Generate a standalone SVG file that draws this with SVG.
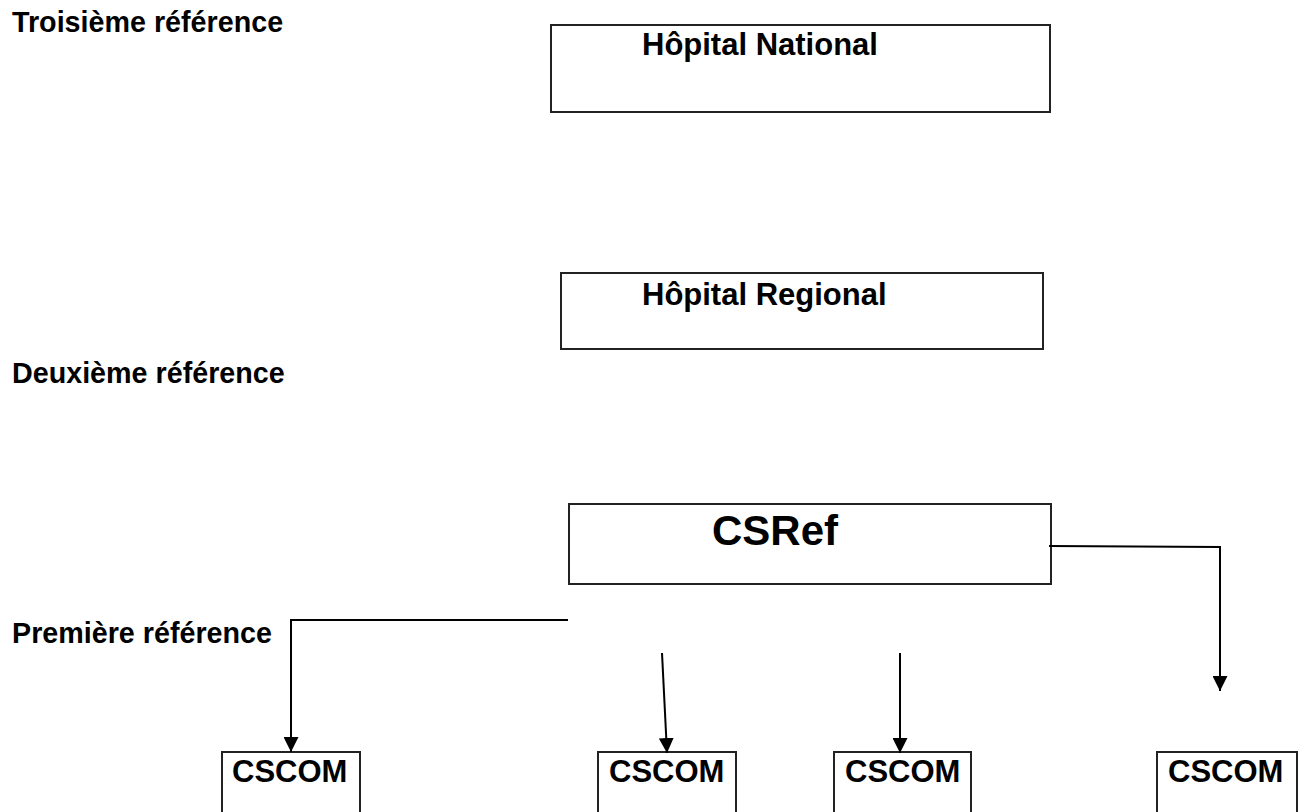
<svg xmlns="http://www.w3.org/2000/svg" width="1307" height="812" viewBox="0 0 1307 812">
<style>
.box{fill:#fff;stroke:#222;stroke-width:2}
.t{font-family:"Liberation Sans",Arial,sans-serif;font-weight:bold;fill:#000}
.lbl{font-size:28.7px}
.bt{font-size:31px}
.conn{fill:none;stroke:#000;stroke-width:2}
</style>
<defs>
<marker id="ah" markerUnits="userSpaceOnUse" markerWidth="15" markerHeight="15" refX="15" refY="7.5" orient="auto">
<path d="M0,0 L15,7.5 L0,15 Z" fill="#000"/>
</marker>
</defs>
<rect width="1307" height="812" fill="#fff"/>
<g id="labels">
<text class="t lbl" x="12" y="32">Troisième référence</text>
<text class="t lbl" x="12" y="383">Deuxième référence</text>
<text class="t lbl" x="12" y="643">Première référence</text>
</g>
<g id="hopital-national">
<rect class="box" x="551" y="25" width="499" height="87"/>
<text class="t bt" x="642" y="55">Hôpital National</text>
</g>
<g id="hopital-regional">
<rect class="box" x="561" y="273" width="482" height="76"/>
<text class="t bt" x="642" y="305">Hôpital Regional</text>
</g>
<g id="csref">
<rect class="box" x="569" y="504" width="482" height="80"/>
<text class="t" x="712" y="545" font-size="42">CSRef</text>
</g>
<g id="cscom1">
<rect class="box" x="222" y="752" width="138" height="80"/>
<text class="t bt" x="232" y="782">CSCOM</text>
</g>
<g id="cscom2">
<rect class="box" x="598" y="752" width="138" height="80"/>
<text class="t bt" x="609" y="782">CSCOM</text>
</g>
<g id="cscom3">
<rect class="box" x="834" y="752" width="137" height="80"/>
<text class="t bt" x="845" y="782">CSCOM</text>
</g>
<g id="cscom4">
<rect class="box" x="1157" y="752" width="140" height="80"/>
<text class="t bt" x="1168" y="782">CSCOM</text>
</g>
<g id="connectors">
<path class="conn" d="M1049,546 L1220,547 L1220,691" marker-end="url(#ah)"/>
<path class="conn" d="M568,620 L291,620 L291,752" marker-end="url(#ah)"/>
<path class="conn" d="M662,653 L667,753" marker-end="url(#ah)"/>
<path class="conn" d="M900,653 L900,753" marker-end="url(#ah)"/>
</g>
</svg>
